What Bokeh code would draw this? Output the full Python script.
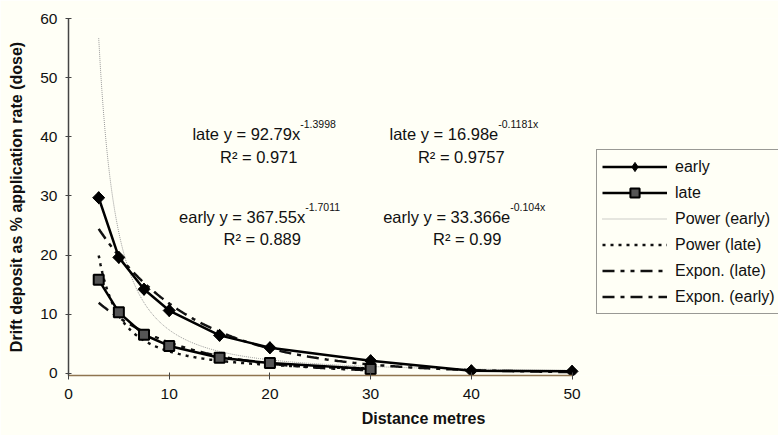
import numpy as np
from bokeh.plotting import figure
from bokeh.models import Range1d, Label, Legend, LegendItem, FixedTicker, Title
from bokeh.embed import file_html
from bokeh.resources import INLINE

# ---------------- data ----------------
early_x = [3, 5, 7.5, 10, 15, 20, 30, 40, 50]
early_y = [29.7, 19.6, 14.2, 10.6, 6.4, 4.3, 2.1, 0.4, 0.3]
late_x = [3, 5, 7.5, 10, 15, 20, 30]
late_y = [15.8, 10.3, 6.5, 4.6, 2.6, 1.7, 0.7]

# trendline coefficients as printed on the chart
power_early = (367.55, -1.7011)
power_late = (92.79, -1.3998)
expon_late = (16.98, -0.1181)
expon_early = (33.366, -0.104)

x_ticks = [0, 10, 20, 30, 40, 50]
y_ticks = [0, 10, 20, 30, 40, 50, 60]

BG = "#FFFFF6"
FONT = "Liberation Sans"

p = figure(width=778, height=435, output_backend="svg", toolbar_location=None,
           x_range=Range1d(0, 70.5), y_range=Range1d(-0.4, 60.05),
           min_border_left=68, min_border_right=0, min_border_top=18,
           min_border_bottom=60, background_fill_color=BG,
           border_fill_color=BG, outline_line_color=None)
p.grid.visible = False

# axes
xa = p.xaxis[0]
xa.ticker = FixedTicker(ticks=x_ticks)
xa.bounds = (0, 50)
xa.axis_line_color = "#8f7550"
xa.axis_line_width = 1.5
xa.major_tick_line_color = "#444444"
xa.major_tick_in = 3
xa.major_tick_out = 4
xa.minor_tick_line_color = None
xa.major_label_standoff = 9
xa.major_label_text_font = FONT
xa.major_label_text_font_size = "15.5px"
xa.major_label_text_color = "#111111"

ya = p.yaxis[0]
ya.ticker = FixedTicker(ticks=y_ticks)
ya.bounds = (-0.4, 60)
ya.axis_line_color = "#444444"
ya.axis_line_width = 1.5
ya.major_tick_line_color = "#444444"
ya.major_tick_in = 3
ya.major_tick_out = 3
ya.minor_tick_line_color = None
ya.major_label_standoff = 8
ya.major_label_text_font = FONT
ya.major_label_text_font_size = "15.5px"
ya.major_label_text_color = "#111111"
ya.axis_label = "Drift deposit as % application rate (dose)"
ya.axis_label_text_font = FONT
ya.axis_label_text_font_size = "16px"
ya.axis_label_text_font_style = "bold"
ya.axis_label_text_color = "#111111"
ya.axis_label_standoff = 12

# x axis title, centred under the 0-50 part of the axis
p.add_layout(Title(text="Distance metres", align="center", offset=-103, standoff=13,
                   text_font=FONT, text_font_size="16px", text_font_style="bold",
                   text_color="#111111"), "below")

# trendlines
def power_curve(coef, xs):
    xx = np.linspace(min(xs), max(xs), 300)
    return xx, coef[0] * xx ** coef[1]

def expon_curve(coef, xs):
    xx = np.linspace(min(xs), max(xs), 300)
    return xx, coef[0] * np.exp(coef[1] * xx)

px_, py_ = power_curve(power_early, early_x)
r_pe = p.line(px_, py_, line_color="#9a9a9a", line_width=1, line_dash="1 1")
px_, py_ = power_curve(power_late, late_x)
r_pl = p.line(px_, py_, line_color="#111111", line_width=2.5, line_dash="3 5")
px_, py_ = expon_curve(expon_late, late_x)
r_el = p.line(px_, py_, line_color="#111111", line_width=2.5, line_dash="12 6 4 6 4 6")
px_, py_ = expon_curve(expon_early, early_x)
r_ee = p.line(px_, py_, line_color="#111111", line_width=2.5, line_dash="12 6 4 6")

# data series
r_e_line = p.line(early_x, early_y, line_color="#000000", line_width=2.5)
r_e_pts = p.scatter(early_x, early_y, marker="square", angle=np.pi / 4, size=8.5,
                    fill_color="#000000", line_color="#000000")
# diamond drawn inside the rotated squares (gives the legend its diamond)
r_e_dia = p.scatter(early_x, early_y, marker="diamond", size=12,
                    fill_color="#000000", line_color="#000000")
r_l_line = p.line(late_x, late_y, line_color="#000000", line_width=2.5)
r_l_pts = p.scatter(late_x, late_y, marker="square", size=10,
                    fill_color="#555555", line_color="#000000", line_width=2)

legend = Legend(items=[
    LegendItem(label="early", renderers=[r_e_line, r_e_dia]),
    LegendItem(label="late", renderers=[r_l_line, r_l_pts]),
    LegendItem(label="Power (early)", renderers=[r_pe]),
    LegendItem(label="Power (late)", renderers=[r_pl]),
    LegendItem(label="Expon. (late)", renderers=[r_el]),
    LegendItem(label="Expon. (early)", renderers=[r_ee]),
], location=(528, 61))
legend.margin = 0
legend.padding = 5
legend.spacing = 3
legend.glyph_width = 65
legend.glyph_height = 23
legend.label_height = 23
legend.label_width = 130
legend.label_standoff = 8
legend.label_text_font = FONT
legend.label_text_font_size = "16px"
legend.label_text_color = "#111111"
legend.border_line_color = "#333333"
legend.border_line_width = 1
legend.background_fill_color = BG
legend.background_fill_alpha = 1
p.add_layout(legend)

# annotation positions (image pixels -> data)
def dx(ix):
    return (ix - 68.3) / 10.07

def dy(iy):
    return (372.3 - iy) / 5.9

def eq(main, sup, ix, iy):
    p.add_layout(Label(x=dx(ix), y=dy(iy), text=main, text_align="right",
                       text_baseline="alphabetic", text_font=FONT,
                       text_font_size="16.5px", text_color="#111111"))
    p.add_layout(Label(x=dx(ix), y=dy(iy - 10), text=sup, text_align="left",
                       text_baseline="alphabetic", text_font=FONT,
                       text_font_size="10.5px", text_color="#111111"))

def r2(txt, ix, iy):
    p.add_layout(Label(x=dx(ix), y=dy(iy), text=txt, text_align="center",
                       text_baseline="alphabetic", text_font=FONT,
                       text_font_size="16.5px", text_color="#111111"))

eq("late y = 92.79x", "-1.3998", 300, 133.5)
r2("R\u00b2 = 0.971", 258.5, 156.5)
eq("early y = 367.55x", "-1.7011", 305, 216)
r2("R\u00b2 = 0.889", 262, 238.5)
eq("late y = 16.98e", "-0.1181x", 498, 133.5)
r2("R\u00b2 = 0.9757", 461, 156.5)
eq("early y = 33.366e", "-0.104x", 510, 216)
r2("R\u00b2 = 0.99", 467, 238.5)

open("out.html", "w").write(file_html(p, INLINE))
